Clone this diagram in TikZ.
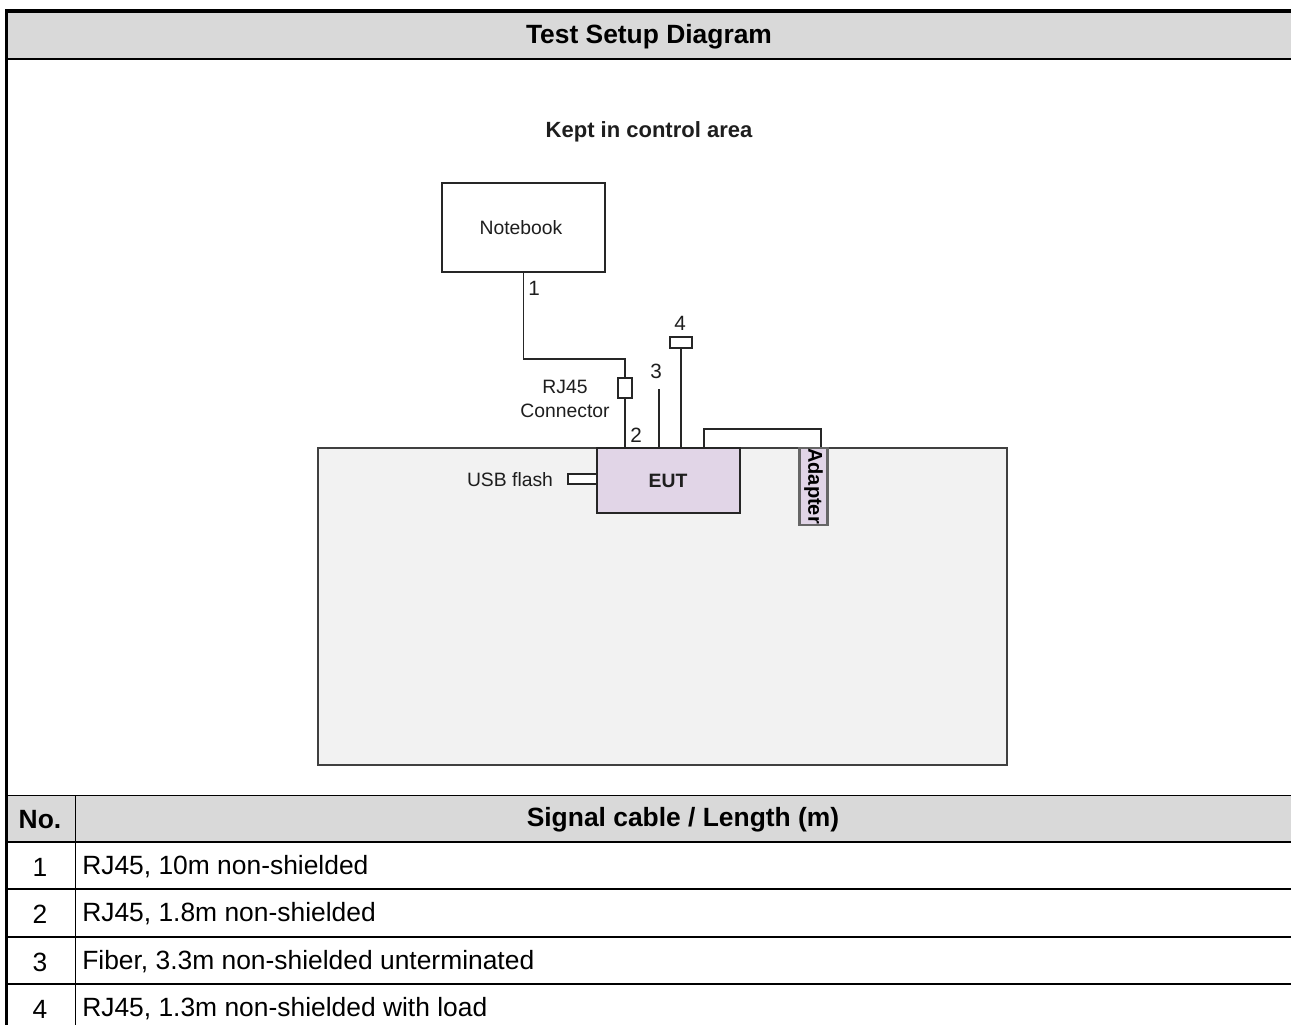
\documentclass[tikz,border=0pt]{standalone}
\usepackage{fontspec}
\setmainfont{Liberation Sans}
\definecolor{hdrgray}{HTML}{D9D9D9}
\definecolor{areagray}{HTML}{F2F2F2}
\definecolor{eutfill}{HTML}{E1D5E7}
\definecolor{txtdark}{HTML}{1E1E1E}
\begin{document}
\begin{tikzpicture}[x=0.75pt,y=-0.75pt,
  bigtxt/.style={font=\fontsize{19.8}{23}\selectfont, inner sep=0pt, text=black},
  bigbold/.style={font=\fontsize{19.8}{23}\selectfont\bfseries, inner sep=0pt, text=black},
  lbl/.style={font=\fontsize{14.5}{17}\selectfont, inner sep=0pt, text=txtdark},
  numlbl/.style={font=\fontsize{15.5}{18}\selectfont, inner sep=0pt, text=txtdark},
  lblbold/.style={font=\fontsize{14.5}{17}\selectfont\bfseries, inner sep=0pt, text=txtdark},
  box/.style={draw=black!85, line width=1.3pt, rectangle, inner sep=0pt},
  cable/.style={draw=black!85, line width=1.4pt},
  rowline/.style={line width=1.5pt},
]
\useasboundingbox (0,0) rectangle (1291,1025);
\fill[white] (0,0) rectangle (1291,1025);

% ---------- title band ----------
\fill[hdrgray] (5,9) rectangle (1291,59);
\node[bigbold] (title) at (649,37) {Test Setup Diagram};
\draw[line width=3pt] (5,11) -- (1291,11);
\draw[line width=1.5pt] (5,59) -- (1291,59);

% ---------- diagram ----------
\node[lblbold, font=\fontsize{16.5}{19}\selectfont\bfseries] (kept) at (649,132) {Kept in control area};

\node[box, draw=black!75, line width=1.8pt, fill=areagray, minimum width=516.75pt, minimum height=237.75pt] (area) at (662.5,606.5) {};

\node[box, fill=white, minimum width=122.25pt, minimum height=66.75pt] (nb) at (523.5,227.5) {};
\node[lbl] (nbtxt) at (521,228) {Notebook};

\node[box, fill=eutfill, minimum width=107.25pt, minimum height=48.75pt] (eut) at (668.5,480.5) {};
\node[lblbold] (euttxt) at (668,481) {EUT};

\node[box, draw=black!60, line width=2pt, fill=eutfill, minimum width=21pt, minimum height=57.75pt] (ad) at (813.5,486.5) {};
\node[lblbold, text=black, font=\fontsize{15}{17}\selectfont\bfseries, rotate=-90] (adtxt) at (813.5,486) {Adapter};

\node[box, fill=white, minimum width=21.75pt, minimum height=7.5pt] (usb) at (582.5,479) {};
\node[lbl] (usbtxt) at (510,480) {USB flash};

\node[box, fill=white, minimum width=10.5pt, minimum height=15pt] (rj) at (625,388) {};
\node[lbl] (rjtxt1) at (565,387) {RJ45};
\node[lbl] (rjtxt2) at (565,411) {Connector};

\node[box, fill=white, minimum width=16.5pt, minimum height=8.25pt] (ld) at (681,342.5) {};

% cables
\coordinate (b1) at (523.5,359);
\draw[cable] (nb.south) -- (b1) -| (rj.north);
\draw[cable] (rj.south) -- (rj.south |- eut.north);
\coordinate (c3top) at (659,389);
\draw[cable] (c3top) -- (c3top |- eut.north);
\draw[cable] (ld.south) -- (ld.south |- eut.north);
\coordinate (a1) at (704,429);
\coordinate (a2) at (821,429);
\draw[cable] (a1 |- eut.north) -- (a1) -- (a2) -- (a2 |- ad.north);

\node[numlbl] (n1) at (534,288) {1};
\node[numlbl] (n2) at (636,435) {2};
\node[numlbl] (n3) at (656,371) {3};
\node[numlbl] (n4) at (680,323) {4};

% ---------- table ----------
\fill[hdrgray] (5,795) rectangle (1291,842);
\draw[line width=0.75pt] (5,795) -- (1291,795);
\draw[rowline] (5,842) -- (1291,842);
\draw[rowline] (5,889) -- (1291,889);
\draw[rowline] (5,937) -- (1291,937);
\draw[rowline] (5,984) -- (1291,984);
\draw[line width=0.75pt] (75,795) -- (75,1025);

\node[bigbold] (hno) at (40,820) {No.};
\node[bigbold] (hcable) at (683,820) {Signal cable / Length (m)};

\node[bigtxt] (r1n) at (40,867) {1};
\node[bigtxt, anchor=west] (r1t) at (82,867) {RJ45, 10m non-shielded};
\node[bigtxt] (r2n) at (40,914) {2};
\node[bigtxt, anchor=west] (r2t) at (82,914) {RJ45, 1.8m non-shielded};
\node[bigtxt] (r3n) at (40,962) {3};
\node[bigtxt, anchor=west] (r3t) at (82,962) {Fiber, 3.3m non-shielded unterminated};
\node[bigtxt] (r4n) at (40,1009) {4};
\node[bigtxt, anchor=west] (r4t) at (82,1009) {RJ45, 1.3m non-shielded with load};

% left frame border
\draw[line width=2.6pt] (6.7,9) -- (6.7,1025);
\end{tikzpicture}
\end{document}
